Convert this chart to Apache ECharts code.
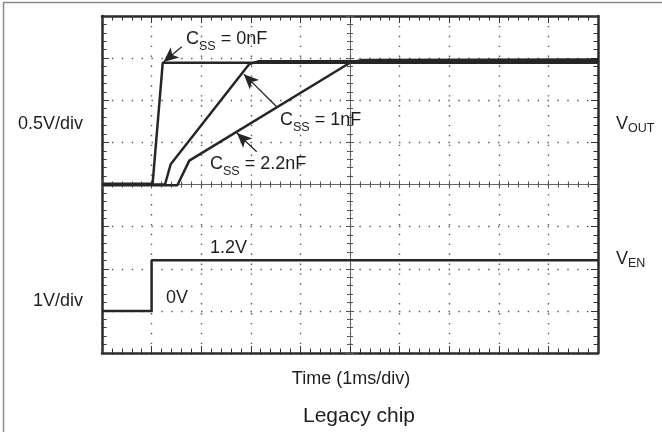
<!DOCTYPE html>
<html><head><meta charset="utf-8">
<script src="https://cdn.jsdelivr.net/npm/echarts@6/dist/echarts.min.js"></script>
<style>html,body{margin:0;padding:0;background:#fff}#c{width:662px;height:432px}</style>
</head><body><div id="c"></div>
<script>
// ---- scales ----
const xMin = 0, xMax = 10, xStep = 1;            // 1 ms/div
const voutMin = -2, voutMax = 2, voutStep = 0.5; // 0.5 V/div
const venMin = -1, venMax = 7, venStep = 1;      // 1 V/div

// ---- traces [time (ms), volts] ----
const vout0nF  = [[0,0.008],[1.02,0.008],[1.225,1.446],[10,1.446]];
const vout1nF  = [[0,0],[1.27,0],[1.385,0.24],[2.97,1.43],[3.15,1.462],[10,1.466]];
const vout2n2F = [[0,-0.008],[1.52,-0.008],[1.76,0.283],[5.0,1.445],[5.25,1.478],[10,1.4825]];
const ven      = [[0,0],[1.0,0],[1.0,1.2],[10,1.2]];

// ---- annotation arrows [tail, head] (time ms, VOUT volts) ----
const arrow0nF  = [[1.607,1.636],[1.24,1.455]];
const arrow1nF  = [[3.522,0.923],[2.86,1.31]];
const arrow2n2F = [[3.119,0.389],[2.72,0.612]];

// ---- texts ----
const label0nF = ' = 0nF', label1nF = ' = 1nF', label2n2F = ' = 2.2nF';
const voutScale = '0.5V/div', venScale = '1V/div';
const venHigh = '1.2V', venLow = '0V';
const xTitle = 'Time (1ms/div)', caption = 'Legacy chip';

const FF = '"Liberation Sans", Arial, Helvetica, sans-serif';
const INK = '#1e1e1e', TRACE = '#262626', GRIDC = '#555';
const MAIN = 18, SUB = 12.5;

const mctx = document.createElement('canvas').getContext('2d');
function tw(t, size) { mctx.font = size + 'px ' + FF; return mctx.measureText(t).width; }

function borderX(pos) {
  return { type:'value', min:xMin, max:xMax, interval:xStep, position:pos,
    axisLine:{show:true,onZero:false,lineStyle:{color:'#2b2b2b',width:2.5}},
    axisTick:{show:true,inside:true,length:7,lineStyle:{color:'#333',width:1}},
    minorTick:{show:true,splitNumber:5,length:4.5,lineStyle:{color:'#333',width:1}},
    axisLabel:{show:false}, splitLine:{show:false} };
}
function centerX(inside) {
  return { type:'value', min:xMin, max:xMax, interval:xStep, position:'bottom', offset:-168.5,
    axisLine:{show:true,onZero:false,lineStyle:{color:'#666',width:1}},
    axisTick:{show:true,inside:inside,length:4,lineStyle:{color:'#555',width:1}},
    minorTick:{show:true,splitNumber:5,length:3,lineStyle:{color:'#555',width:1}},
    axisLabel:{show:false}, splitLine:{show:false} };
}
function borderY(pos) {
  return { type:'value', min:voutMin, max:voutMax, interval:voutStep, position:pos,
    axisLine:{show:true,onZero:false,lineStyle:{color:'#2b2b2b',width:2.5}},
    axisTick:{show:true,inside:true,length:7,lineStyle:{color:'#333',width:1}},
    minorTick:{show:true,splitNumber:5,length:4.5,lineStyle:{color:'#333',width:1}},
    axisLabel:{show:false}, splitLine:{show:false} };
}
function centerY(inside) {
  return { type:'value', min:voutMin, max:voutMax, interval:voutStep, position:'left', offset:-248,
    axisLine:{show:true,onZero:false,lineStyle:{color:'#666',width:1}},
    axisTick:{show:true,inside:inside,length:4,lineStyle:{color:'#555',width:1}},
    minorTick:{show:true,splitNumber:5,length:3,lineStyle:{color:'#555',width:1}},
    axisLabel:{show:false}, splitLine:{show:false} };
}
const dotted = {show:true, lineStyle:{color:GRIDC, width:1.4, type:[1.4,8.5]}};

function arrowMark(a) {
  return { silent:true, animation:false, symbol:['none','arrow'], symbolSize:[10,15],
    label:{show:false}, lineStyle:{color:TRACE,width:1.3,type:'solid'},
    itemStyle:{color:TRACE}, emphasis:{disabled:true},
    data:[[{coord:a[0]},{coord:a[1]}]] };
}
function trace(data, yIdx, mark) {
  const s = { type:'line', xAxisIndex:0, yAxisIndex:yIdx, data:data, symbol:'none',
    lineStyle:{color:TRACE,width:2.5}, z:5, animation:false, silent:true };
  if (mark) s.markLine = arrowMark(mark);
  return s;
}
function txt(x, y, text, size, align) {
  return { type:'text', x:x, y:y, z:100, style:{ text:text, fontSize:size, fontFamily:FF,
    fill:INK, align:align, verticalAlign:'middle' } };
}
// main text with subscript: capTop = top of capitals, drop = subscript baseline drop
function subLabel(x, capTop, main, sub, rest, drop) {
  const midMain = capTop + 0.358 * MAIN + 0.8;
  const baseMain = capTop + 0.716 * MAIN;
  const midSub = baseMain + drop - 0.358 * SUB + 0.6;
  const w1 = tw(main, MAIN), w2 = tw(sub, SUB);
  const out = [ txt(x, midMain, main, MAIN, 'left'), txt(x + w1, midSub, sub, SUB, 'left') ];
  if (rest) out.push(txt(x + w1 + w2, midMain, rest, MAIN, 'left'));
  return out;
}

const chart = echarts.init(document.getElementById('c'), null, {renderer:'canvas'});
chart.setOption({
  animation:false,
  backgroundColor:'#fff',
  grid:{left:102, top:16, width:496, height:337, outerBoundsMode:'none', containLabel:false},
  xAxis:[ Object.assign(borderX('bottom'), {splitLine:dotted}), borderX('top'), centerX(false), centerX(true) ],
  yAxis:[ Object.assign(borderY('left'), {splitLine:dotted}),
          {type:'value', min:venMin, max:venMax, interval:venStep, show:false},
          borderY('right'), centerY(false), centerY(true) ],
  series:[
    trace(vout0nF, 0, arrow0nF),
    trace(vout1nF, 0, arrow1nF),
    trace(vout2n2F, 0, arrow2n2F),
    trace(ven, 1, null)
  ],
  graphic:[].concat(
    [ {type:'line', shape:{x1:3,y1:2.5,x2:662,y2:2.5}, style:{stroke:'#8a8a8a',lineWidth:1.5}},
      {type:'line', shape:{x1:3.5,y1:2,x2:3.5,y2:432}, style:{stroke:'#8a8a8a',lineWidth:1.5}} ],
    subLabel(186, 32, 'C', 'SS', label0nF, 5.5),
    subLabel(280, 113, 'C', 'SS', label1nF, 5.5),
    subLabel(210, 156.7, 'C', 'SS', label2n2F, 5.5),
    subLabel(616, 116.7, 'V', 'OUT', '', 3),
    subLabel(616, 251.7, 'V', 'EN', '', 3),
    [ txt(83, 124.5, voutScale, MAIN, 'right'),
      txt(83, 301.5, venScale, MAIN, 'right'),
      txt(210, 248.5, venHigh, MAIN, 'left'),
      txt(166, 298, venLow, MAIN, 'left'),
      txt(351, 379, xTitle, MAIN, 'center'),
      txt(359, 416.5, caption, 21, 'center') ]
  )
});
</script></body></html>
